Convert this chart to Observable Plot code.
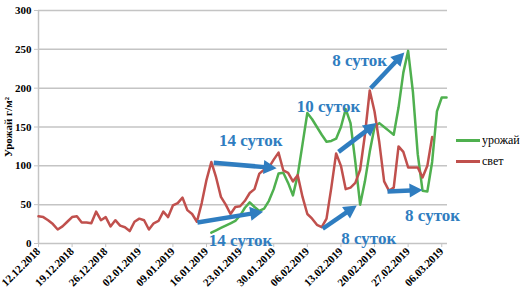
<!DOCTYPE html>
<html><head><meta charset="utf-8">
<script src="https://cdn.jsdelivr.net/npm/d3@7"></script>
<script src="https://cdn.jsdelivr.net/npm/@observablehq/plot@0.6"></script>
<style>
body{margin:0;background:#fff;}
#wrap{position:relative;width:523px;height:299px;overflow:hidden;}
.leg{position:absolute;left:456px;height:14px;font-size:12px;font-family:'Liberation Serif',serif;color:#000;display:flex;align-items:center;}
.leg .sw{display:inline-block;width:24px;height:3px;margin-right:2px;}
#wrap svg text, #wrap svg{font-family:'Liberation Serif',serif;}
</style></head><body><div id="wrap"></div>
<script>
// ---- data ----
const startDate = "12.12.2018";
const xTickLabels = ["12.12.2018","19.12.2018","26.12.2018","02.01.2019","09.01.2019","16.01.2019","23.01.2019","30.01.2019","06.02.2019","13.02.2019","20.02.2019","27.02.2019","06.03.2019"];
const yTicks = [0,50,100,150,200,250,300];
const seriesNames = ["урожай","свет"];
const seriesColors = ["#4fb04f","#c0504d"];
// свет: daily values from 12.12.2018
const lightValues = [35,34,30,25,18,22,28,34,35,27,27,26,41,30,34,22,30,23,21,16,28,32,30,18,26,29,41,34,49,52,59,43,38,28,52,82,105,85,60,50,38,47,48,55,65,70,90,95,98,108,117,94,91,80,88,60,38,32,24,21,32,72,116,100,70,72,78,95,140,197,170,130,80,68,72,125,118,98,98,98,85,100,137];
// урожай: daily values starting 36 days after start
const yieldStartDay = 36;
const yieldValues = [14,17,20,23,26,29,36,46,53,47,42,45,55,70,90,91,78,62,88,128,168,160,150,140,131,132,135,150,173,155,105,50,80,118,150,155,150,145,140,175,220,248,195,115,68,67,105,170,188,188];
// annotations (day offset, value)
const arrowFromDay = [36.5, 33.1, 59.2, 62.5, 69.2, 72.7];
const arrowFromVal = [104, 27, 19, 118, 200, 67];
const arrowToDay   = [49.6, 46.8, 66.3, 70.4, 76.2, 80.0];
const arrowToVal   = [97, 41, 49, 155, 246, 69];
const labelTexts = ["14 суток","14 суток","10 суток","8 суток","8 суток","8 суток"];
const labelDay   = [44.2, 42.1, 60.4, 66.9, 68.8, 82.1];
const labelVal   = [133, 4, 176, 235, 7, 36];

// ---- build ----
const serif = "Liberation Serif";
const parse = d3.utcParse("%d.%m.%Y");
const t0 = parse(startDate).getTime();
const day = d => new Date(t0 + d * 864e5);
const lightData = lightValues.map((v,i)=>({date:day(i), value:v}));
const yieldData = yieldValues.map((v,i)=>({date:day(yieldStartDay+i), value:v}));
const arrows = arrowFromDay.map((d,i)=>({x1:day(d), y1:arrowFromVal[i], x2:day(arrowToDay[i]), y2:arrowToVal[i]}));
const labels = labelTexts.map((t,i)=>({x:day(labelDay[i]), y:labelVal[i], text:t}));
const blue = "#2f7dc0";
const grid = "#c4c4c4";

function build(extra) {
  return Plot.plot({
    width:523, height:299, marginLeft:38, marginRight:76, marginTop:10, marginBottom:56,
    style:{fontFamily:serif, fontSize:"11px", fontWeight:"bold", color:"#000", background:"#fff"},
    x:{type:"utc", domain:[day(0), day(85.2)]},
    y:{domain:[0,300]},
    marks:[
      Plot.ruleY(yTicks,{stroke:grid, strokeWidth:1.5}),
      Plot.ruleX([day(0)],{stroke:grid, strokeWidth:1.5}),
      Plot.axisY({ticks:yTicks, tickSize:4, tickPadding:3, stroke:grid, label:"Урожай г/м²", labelAnchor:"center", labelOffset:34, labelArrow:"none"}),
      Plot.axisX({ticks:xTickLabels.map(parse), tickFormat:d3.utcFormat("%d.%m.%Y"), tickRotate:-45, tickSize:4, tickPadding:2, stroke:grid, label:null}),
      Plot.line(yieldData,{x:"date", y:"value", stroke:seriesColors[0], strokeWidth:2.5}),
      Plot.line(lightData,{x:"date", y:"value", stroke:seriesColors[1], strokeWidth:2.5}),
      ...extra,
      Plot.text(labels,{x:"x", y:"y", text:"text", fill:blue, fontSize:17, fontWeight:"bold", fontFamily:serif})
    ]
  });
}
// probe scales, then build arrow shafts and filled heads through them
const probe = build([]);
const sx = probe.scale("x"), sy = probe.scale("y");
const H = 13, W = 7;
const shafts = [], heads = [];
arrows.forEach((a,i)=>{
  const px1 = sx.apply(a.x1), py1 = sy.apply(a.y1), px2 = sx.apply(a.x2), py2 = sy.apply(a.y2);
  const dx = px2-px1, dy = py2-py1, L = Math.hypot(dx,dy), ux = dx/L, uy = dy/L;
  const bx = px2 - ux*H, by = py2 - uy*H;
  shafts.push({x1:a.x1, y1:a.y1, x2:sx.invert(bx+ux*1), y2:sy.invert(by+uy*1)});
  [[px2,py2],[bx-uy*W, by+ux*W],[bx+uy*W, by-ux*W]].forEach(([qx,qy])=>heads.push({id:i, x:sx.invert(qx), y:sy.invert(qy)}));
});
const chart = build([
  Plot.link(shafts,{x1:"x1", y1:"y1", x2:"x2", y2:"y2", stroke:blue, strokeWidth:4.5}),
  Plot.line(heads,{x:"x", y:"y", z:"id", fill:blue, stroke:"none", curve:"linear-closed"})
]);
const wrap = document.getElementById("wrap");
wrap.appendChild(chart);
[140,161].forEach((cy,i)=>{
  const d = document.createElement("div");
  d.className = "leg";
  d.style.top = (cy-7)+"px";
  d.innerHTML = `<span class="sw" style="background:${seriesColors[i]}"></span>${seriesNames[i]}`;
  wrap.appendChild(d);
});
</script></body></html>
